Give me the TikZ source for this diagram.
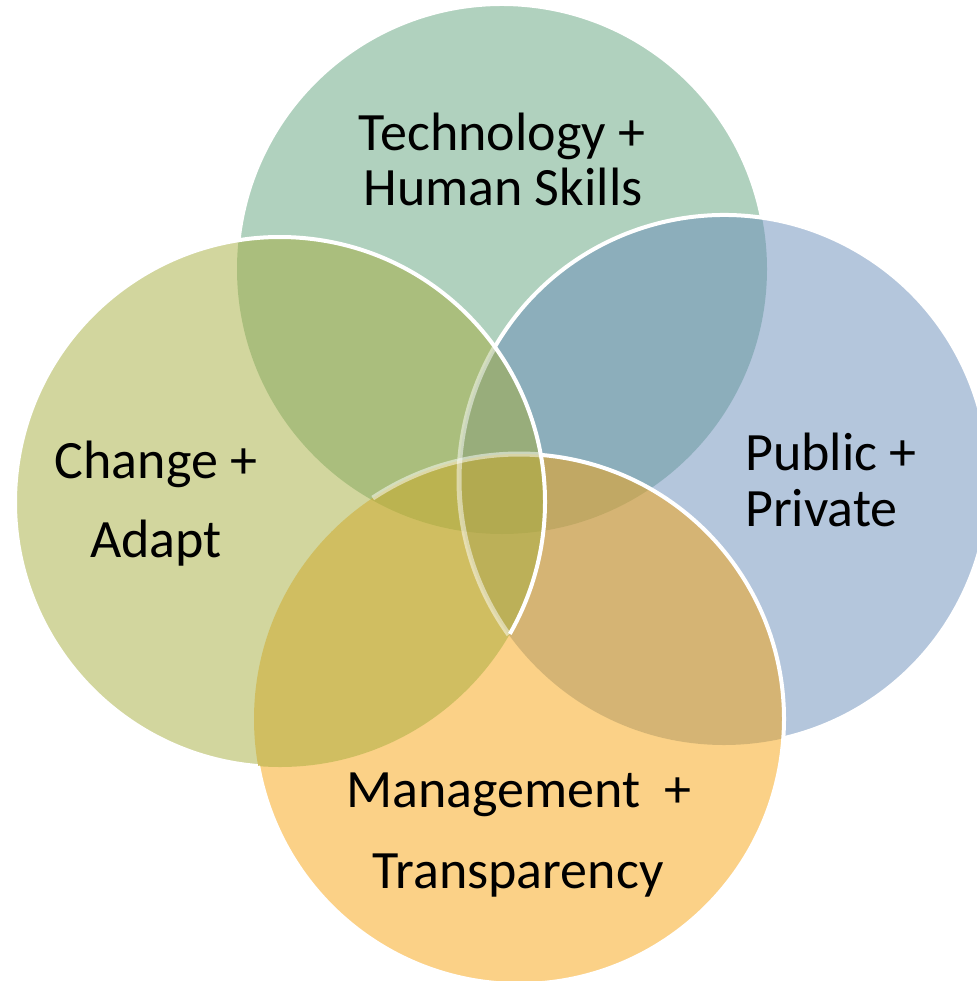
\documentclass[tikz,border=0pt]{standalone}
\usepackage{fontspec}
\setmainfont{Carlito}
\definecolor{cTop}{RGB}{97,163,125}
\definecolor{cRight}{RGB}{105,141,185}
\definecolor{cBottom}{RGB}{247,163,15}
\definecolor{cLeft}{RGB}{165,173,61}
\begin{document}
\begin{tikzpicture}[x=1bp,y=-1bp,
  disc/.style={fill opacity=0.5},
  rim/.style={draw=white,line width=4bp},
  fadedrim/.style={draw=white,draw opacity=0.5,line width=5bp},
  label/.style={inner sep=0pt,font=\fontsize{54bp}{60bp}\selectfont,text=black}]
\useasboundingbox (0,0) rectangle (977,981);
\coordinate (T) at (502,269);
\coordinate (R) at (724,480);
\coordinate (B) at (519,719);
\coordinate (L) at (280,502);
% fills
\fill[cTop,disc] (T) circle (265);
\fill[cRight,disc] (R) circle (265);
\fill[cBottom,disc] (B) circle (265);
\fill[cLeft,disc] (L) circle (265);
% faded borders
\draw[fadedrim] (R) ++(144.3:265) arc[start angle=144.3,end angle=210,radius=265];
\draw[fadedrim] (B) ++(-123.5:265) arc[start angle=-123.5,end angle=-85.2,radius=265];
% bright borders
\draw[rim] (T) ++(-173.8:265) arc[start angle=-173.8,end angle=-11.2,radius=265];
\draw[rim] (R) ++(-150:265) arc[start angle=-150,end angle=77.1,radius=265];
\draw[rim] (B) ++(-85.2:265) arc[start angle=-85.2,end angle=169.8,radius=265];
\draw[rim] (L) ++(94.8:265) arc[start angle=94.8,end angle=389.85,radius=265];
% labels
\node[label,anchor=base] (t1) at (502,150) {Technology +};
\node[label,anchor=base] (t2) at (503,205) {Human Skills};
\node[label,anchor=base west] (r1) at (745,470) {Public +};
\node[label,anchor=base west] (r2) at (745,526) {Private};
\node[label,anchor=base] (l1) at (156,478) {Change +};
\node[label,anchor=base] (l2) at (156,557) {Adapt};
\node[label,anchor=base] (b1) at (519,807) {Management\ \ +};
\node[label,anchor=base] (b2) at (518,888) {Transparency};
\end{tikzpicture}
\end{document}
